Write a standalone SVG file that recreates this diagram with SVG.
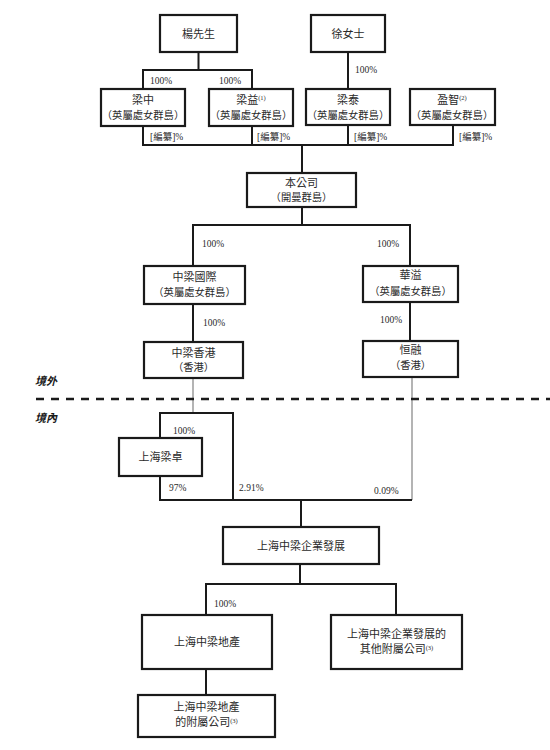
<svg xmlns="http://www.w3.org/2000/svg" width="550" height="750" viewBox="0 0 550 750">
<style>
.box{fill:#fff;stroke:#1a1a1a;stroke-width:2.2}
.ln{fill:none;stroke:#1a1a1a;stroke-width:2}
.thin{fill:none;stroke:#777;stroke-width:1.1}
.t{font-family:"Noto Sans CJK TC","Noto Sans CJK SC",serif;font-size:11px;fill:#2a2a2a;text-anchor:middle}
.s{font-size:10.3px}
.p{font-family:"Liberation Serif","Noto Sans CJK TC",serif;font-size:9.5px;fill:#2a2a2a}
.sup{font-family:"Liberation Serif",serif;font-size:6.5px}
.zone{font-family:"Noto Sans CJK TC",sans-serif;font-size:11px;font-weight:bold;font-style:italic;fill:#1a1a1a}
</style>
<rect width="550" height="750" fill="#fff"/>
<g id="connectors">
<path class="ln" d="M198.5 52V70M143 89V70H252V89"/>
<path class="ln" d="M348 52V89"/>
<path class="ln" d="M143 126V145H453V125M252 126V145M348 125V145M302 145V173"/>
<path class="ln" d="M302 207V225M193 266V225H410V266"/>
<path class="ln" d="M193 304V342M410 302V341"/>
<path class="thin" d="M193 378V413M412 377V500"/>
<path class="ln" d="M160 438V413H233V500M160 476V500H412M301 500V527"/>
<path class="ln" d="M300 564V584M206 615V584H396V615M206 669V695"/>
<path d="M36 399H550" stroke="#1a1a1a" stroke-width="2.6" stroke-dasharray="8 7" fill="none"/>
</g>
<g id="labels">
<text class="p" x="150" y="84">100%</text>
<text class="p" x="219" y="84">100%</text>
<text class="p" x="355" y="73">100%</text>
<text class="p" x="150" y="140">[編纂]%</text>
<text class="p" x="257" y="140">[編纂]%</text>
<text class="p" x="354" y="140">[編纂]%</text>
<text class="p" x="459" y="140">[編纂]%</text>
<text class="p" x="202" y="247">100%</text>
<text class="p" x="377" y="247">100%</text>
<text class="p" x="203" y="326">100%</text>
<text class="p" x="380" y="323">100%</text>
<text class="p" x="173" y="434">100%</text>
<text class="p" x="169" y="491">97%</text>
<text class="p" x="239" y="491">2.91%</text>
<text class="p" x="374" y="494">0.09%</text>
<text class="p" x="214" y="607">100%</text>
<text class="zone" x="35" y="385">境外</text>
<text class="zone" x="35" y="422">境內</text>
</g>
<g id="yang"><rect class="box" x="160" y="15" width="77" height="37"/><text class="t" x="198.5" y="37.5">楊先生</text></g>
<g id="xu"><rect class="box" x="311" y="15" width="74" height="37"/><text class="t" x="348" y="37.5">徐女士</text></g>
<g id="liangzhong"><rect class="box" x="101" y="89" width="84" height="37"/><text class="t" x="143" y="104">梁中</text><text class="t s" x="143" y="119">（英屬處女群島）</text></g>
<g id="liangyi"><rect class="box" x="209" y="89" width="84" height="37"/><text class="t" x="251" y="104">梁益<tspan class="sup" dy="-4">(1)</tspan></text><text class="t s" x="251" y="119">（英屬處女群島）</text></g>
<g id="liangtai"><rect class="box" x="306" y="89" width="84" height="36"/><text class="t" x="348" y="104">梁泰</text><text class="t s" x="348" y="119">（英屬處女群島）</text></g>
<g id="yingzhi"><rect class="box" x="410" y="89" width="85" height="36"/><text class="t" x="452" y="104">盈智<tspan class="sup" dy="-4">(2)</tspan></text><text class="t s" x="452" y="119">（英屬處女群島）</text></g>
<g id="company"><rect class="box" x="247" y="173" width="109" height="34"/><text class="t" x="301.5" y="187">本公司</text><text class="t s" x="301.5" y="201">（開曼群島）</text></g>
<g id="zlintl"><rect class="box" x="144" y="266" width="101" height="38"/><text class="t" x="194.5" y="281">中梁國際</text><text class="t s" x="194.5" y="296">（英屬處女群島）</text></g>
<g id="huayi"><rect class="box" x="363" y="266" width="95" height="36"/><text class="t" x="410.5" y="279">華溢</text><text class="t s" x="410.5" y="295">（英屬處女群島）</text></g>
<g id="zlhk"><rect class="box" x="144" y="342" width="99" height="36"/><text class="t" x="193.5" y="357">中梁香港</text><text class="t s" x="193.5" y="371">（香港）</text></g>
<g id="hengrong"><rect class="box" x="363" y="341" width="95" height="36"/><text class="t" x="410.5" y="354">恒融</text><text class="t s" x="410.5" y="369">（香港）</text></g>
<g id="shlz"><rect class="box" x="119" y="438" width="83" height="38"/><text class="t" x="160.5" y="461">上海梁卓</text></g>
<g id="shzl"><rect class="box" x="223" y="527" width="156" height="37"/><text class="t" x="301" y="549.5">上海中梁企業發展</text></g>
<g id="shzldc"><rect class="box" x="142" y="615" width="130" height="54"/><text class="t" x="207" y="646">上海中梁地產</text></g>
<g id="others"><rect class="box" x="331" y="615" width="131" height="54"/><text class="t" x="396.5" y="638">上海中梁企業發展的</text><text class="t" x="396.5" y="653">其他附屬公司<tspan class="sup" dy="-3">(3)</tspan></text></g>
<g id="dcsubs"><rect class="box" x="138" y="695" width="137" height="42"/><text class="t" x="206.5" y="711">上海中梁地產</text><text class="t" x="206.5" y="726">的附屬公司<tspan class="sup" dy="-3">(3)</tspan></text></g>
</svg>
